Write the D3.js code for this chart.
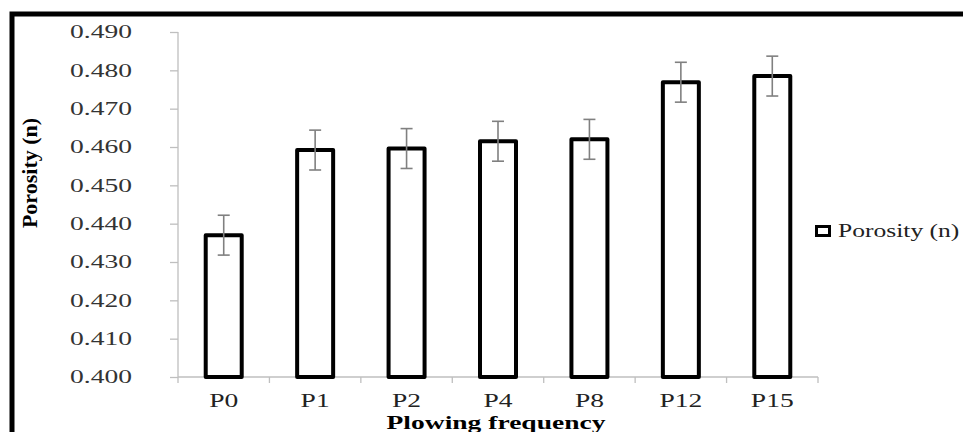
<!DOCTYPE html>
<html>
<head>
<meta charset="utf-8">
<script src="https://cdn.jsdelivr.net/npm/d3@7"></script>
<style>
  body { margin: 0; background: #fff; }
</style>
</head>
<body>
<div id="chart"></div>
<script>
var categories = ["P0", "P1", "P2", "P4", "P8", "P12", "P15"];
var porosity = [0.4370, 0.4592, 0.4596, 0.4615, 0.4620, 0.4769, 0.4785];
var errors = [0.0052, 0.0052, 0.0052, 0.0052, 0.0052, 0.0052, 0.0052];
var yTicks = [0.40, 0.41, 0.42, 0.43, 0.44, 0.45, 0.46, 0.47, 0.48, 0.49];
var seriesName = "Porosity (n)";
var xTitle = "Plowing frequency";
var yTitle = "Porosity (n)";

var w = 963;
var h = 432;
var sx = 1.53; // text in the picture is stretched sideways
var serif = "'Liberation Serif', 'Times New Roman', serif";
var axisGray = "#bfbfbf";

var svg = d3.select("#chart").append("svg")
    .attr("width", w)
    .attr("height", h);

// outer frame, cropped on right and bottom
svg.append("rect")
    .attr("x", 12).attr("y", 14)
    .attr("width", 1100).attr("height", 1000)
    .attr("fill", "#fff")
    .attr("stroke", "#000")
    .attr("stroke-width", 5);

var x = d3.scaleBand()
    .domain(categories)
    .range([178, 818])
    .padding(0);

var y = d3.scaleLinear()
    .domain([0.40, 0.49])
    .range([377, 32]);

// y axis
var yAxis = svg.append("g")
    .attr("transform", "translate(178,0)")
    .call(d3.axisLeft(y).tickValues(yTicks).tickFormat(d3.format(".3f")).tickSize(8).tickSizeOuter(0));
yAxis.select(".domain").remove();
yAxis.selectAll("line").attr("stroke", axisGray).attr("stroke-width", 1.3);
yAxis.selectAll("text")
    .attr("x", -46 / sx)
    .attr("transform", "scale(" + sx + ",1)")
    .attr("font-family", serif)
    .attr("font-size", 18)
    .attr("fill", "#333");
svg.append("line")
    .attr("x1", 178).attr("x2", 178)
    .attr("y1", y(0.49)).attr("y2", 383)
    .attr("stroke", axisGray).attr("stroke-width", 1.3);

// x axis line and boundary ticks
svg.append("line")
    .attr("x1", 178).attr("x2", 818)
    .attr("y1", 377).attr("y2", 377)
    .attr("stroke", axisGray).attr("stroke-width", 1.3);
svg.selectAll(".bound")
    .data(categories)
    .enter()
    .append("line")
    .attr("class", "bound")
    .attr("x1", function(d) { return x(d) + x.bandwidth(); })
    .attr("x2", function(d) { return x(d) + x.bandwidth(); })
    .attr("y1", 377).attr("y2", 383)
    .attr("stroke", axisGray).attr("stroke-width", 1.3);

var xAxis = svg.append("g")
    .attr("transform", "translate(0,377)")
    .call(d3.axisBottom(x).tickSize(0));
xAxis.select(".domain").remove();
xAxis.selectAll("text")
    .attr("y", 30)
    .attr("dy", null)
    .attr("transform", "scale(" + sx + ",1)")
    .attr("font-family", serif)
    .attr("font-size", 18)
    .attr("fill", "#222");

// bars
var barW = 36;
svg.selectAll(".bar")
    .data(categories)
    .enter()
    .append("rect")
    .attr("class", "bar")
    .attr("x", function(d) { return x(d) + x.bandwidth() / 2 - barW / 2; })
    .attr("y", function(d, i) { return y(porosity[i]); })
    .attr("width", barW)
    .attr("height", function(d, i) { return y(0.40) - y(porosity[i]); })
    .attr("fill", "#fff")
    .attr("stroke", "#000")
    .attr("stroke-width", 4)
    .attr("stroke-linejoin", "round");

// error bars
var err = svg.selectAll(".err")
    .data(categories)
    .enter()
    .append("g")
    .attr("class", "err")
    .attr("stroke", "#808080")
    .attr("stroke-width", 1.6);
err.append("line")
    .attr("x1", function(d) { return x(d) + x.bandwidth() / 2; })
    .attr("x2", function(d) { return x(d) + x.bandwidth() / 2; })
    .attr("y1", function(d, i) { return y(porosity[i] + errors[i]); })
    .attr("y2", function(d, i) { return y(porosity[i] - errors[i]); });
[1, -1].forEach(function(s) {
  err.append("line")
      .attr("x1", function(d) { return x(d) + x.bandwidth() / 2 - 6; })
      .attr("x2", function(d) { return x(d) + x.bandwidth() / 2 + 6; })
      .attr("y1", function(d, i) { return y(porosity[i] + s * errors[i]); })
      .attr("y2", function(d, i) { return y(porosity[i] + s * errors[i]); });
});

// axis titles
svg.append("text")
    .attr("transform", "translate(496,429) scale(" + sx + ",1)")
    .attr("text-anchor", "middle")
    .attr("font-family", serif)
    .attr("font-weight", "bold")
    .attr("font-size", 18)
    .text(xTitle);

svg.append("text")
    .attr("transform", "translate(37,173) rotate(-90)")
    .attr("text-anchor", "middle")
    .attr("font-family", serif)
    .attr("font-weight", "bold")
    .attr("font-size", 22)
    .text(yTitle);

// legend (squeezed a touch so the closing bracket stays on the page)
svg.append("rect")
    .attr("x", 816.5).attr("y", 226.5)
    .attr("width", 13).attr("height", 9)
    .attr("fill", "#fff")
    .attr("stroke", "#000")
    .attr("stroke-width", 3);
svg.append("text")
    .attr("transform", "translate(838,237) scale(1.42,1)")
    .attr("font-family", serif)
    .attr("font-size", 18)
    .attr("fill", "#222")
    .text(seriesName);
</script>
</body>
</html>
